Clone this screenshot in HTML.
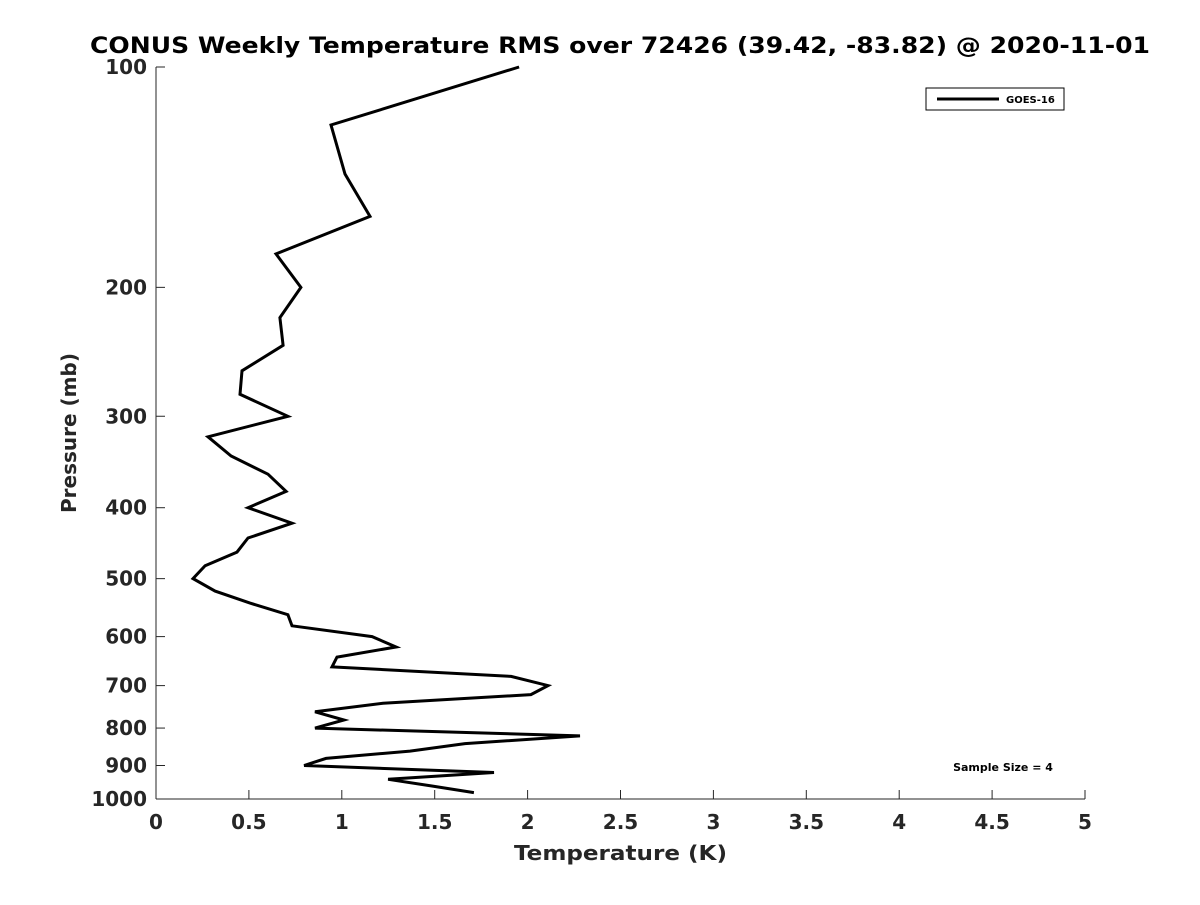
<!DOCTYPE html>
<html><head><meta charset="utf-8"><style>
body{margin:0;background:#fff;}
svg text{font-family:"DejaVu Sans","Liberation Sans",sans-serif;font-weight:bold;fill:#262626;}
</style></head><body>
<svg id="chart" width="1200" height="900" xmlns="http://www.w3.org/2000/svg">
<rect width="1200" height="900" fill="#fff"/>
<text x="90" y="53" font-size="22" textLength="1060" lengthAdjust="spacingAndGlyphs" style="fill:#000">CONUS Weekly Temperature RMS over 72426 (39.42, -83.82) @ 2020-11-01</text>
<g id="axes"></g>
<polyline id="line" fill="none" stroke="#000" stroke-width="3" stroke-linejoin="miter"/>
<g>
<rect x="926" y="88" width="138" height="22" fill="#fff" stroke="#000" stroke-width="1"/>
<line x1="937" y1="99" x2="999" y2="99" stroke="#000" stroke-width="3"/>
<text x="1006" y="103" font-size="10" style="fill:#000">GOES-16</text>
</g>
<text x="1003" y="771" text-anchor="middle" font-size="11" style="fill:#000">Sample Size = 4</text>
<text x="514" y="860" font-size="20" textLength="213" lengthAdjust="spacingAndGlyphs">Temperature (K)</text>
<text transform="translate(76,433) rotate(-90)" text-anchor="middle" font-size="20">Pressure (mb)</text>
</svg>
<script>
const temps=[1.954,0.942,1.017,1.152,0.646,0.780,0.667,0.684,0.463,0.452,0.710,0.280,0.404,0.603,0.700,0.495,0.732,0.495,0.436,0.264,0.199,0.318,0.506,0.710,0.732,1.163,1.292,0.974,0.947,1.911,2.110,2.018,1.222,0.856,1.012,0.856,2.282,1.663,1.367,0.915,0.797,1.819,1.249,1.485,1.711];
const pressures=[100,120,140,160,180,200,220,240,260,280,300,320,340,360,380,400,420,440,460,480,500,520,540,560,580,600,620,640,660,680,700,720,740,760,780,800,820,840,860,880,900,920,940,960,980];
const xTicks=[0,0.5,1,1.5,2,2.5,3,3.5,4,4.5,5];
const xTickLabels=["0","0.5","1","1.5","2","2.5","3","3.5","4","4.5","5"];
const yTicks=[100,200,300,400,500,600,700,800,900,1000];
const X0=156,X1=1085,Y0=67,Y1=799;
function xs(t){return X0+(t-0)/(5-0)*(X1-X0);}
function ys(p){return Y0+(Math.log10(p)-2)*(Y1-Y0);}
const NS="http://www.w3.org/2000/svg";
const axes=document.getElementById('axes');
function mk(tag,attrs){const e=document.createElementNS(NS,tag);for(const k in attrs)e.setAttribute(k,attrs[k]);return e;}
let l=mk('line',{x1:X0,y1:Y0,x2:X0,y2:Y1,stroke:'#262626','stroke-width':1});


axes.appendChild(l);
l=mk('line',{x1:X0,y1:Y1,x2:X1,y2:Y1,stroke:'#262626','stroke-width':1});


axes.appendChild(l);
xTicks.forEach((t,i)=>{
  const x=xs(t);
  const tk=mk('line',{x1:x,y1:Y1,x2:x,y2:Y1-9,stroke:'#262626','stroke-width':1});
  
  
  axes.appendChild(tk);
  const tx=mk('text',{x:x,y:Y1+30,'text-anchor':'middle','font-size':20});
  tx.textContent=xTickLabels[i];
  
  
  axes.appendChild(tx);
});
yTicks.forEach(p=>{
  const y=ys(p);
  const tk=mk('line',{x1:X0,y1:y,x2:X0+9,y2:y,stroke:'#262626','stroke-width':1});
  
  
  axes.appendChild(tk);
  const tx=mk('text',{x:X0-9,y:y+7,'text-anchor':'end','font-size':20});
  tx.textContent=String(p);
  
  
  axes.appendChild(tx);
});
document.getElementById('line').setAttribute('points',temps.map((t,i)=>xs(t).toFixed(1)+','+ys(pressures[i]).toFixed(1)).join(' '));
</script>
</body></html>
